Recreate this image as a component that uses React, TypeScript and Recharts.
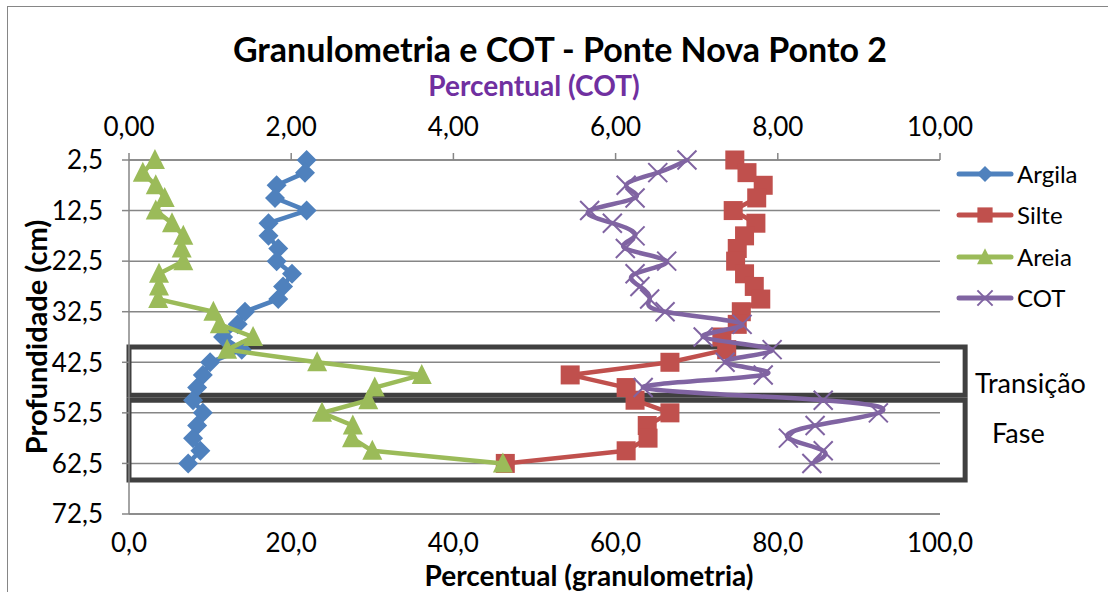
import { ScatterChart, Scatter, XAxis, YAxis, CartesianGrid, ReferenceArea } from 'recharts'

// depth (cm) of each sample
const depth = [2.5, 5, 7.5, 10, 12.5, 15, 17.5, 20, 22.5, 25, 27.5, 30, 32.5, 35, 37.5, 40, 42.5, 45, 47.5, 50, 52.5, 55, 57.5, 60, 62.5]

// granulometria (%)
const argila = [21.9, 21.7, 18.2, 18.0, 21.9, 17.2, 17.2, 18.4, 18.2, 20.1, 19.0, 18.4, 14.3, 13.4, 11.6, 13.9, 10.0, 9.1, 8.4, 7.9, 9.1, 8.4, 7.9, 8.8, 7.3]
const silte = [74.7, 76.2, 78.2, 77.4, 74.5, 77.3, 75.9, 75.0, 74.8, 75.9, 77.1, 77.9, 75.5, 75.0, 73.1, 73.7, 66.7, 54.4, 61.3, 62.4, 66.7, 63.9, 64.0, 61.3, 46.4]
const areia = [3.2, 1.7, 3.3, 4.4, 3.3, 5.3, 6.7, 6.5, 6.7, 3.7, 3.7, 3.6, 10.4, 11.2, 15.3, 12.1, 23.2, 36.1, 30.3, 29.5, 23.8, 27.6, 27.5, 30.0, 46.1]

// carbono orgânico total (%)
const cot = [6.88, 6.52, 6.13, 6.24, 5.68, 5.96, 6.24, 6.12, 6.63, 6.24, 6.30, 6.42, 6.61, 7.56, 7.08, 7.93, 7.35, 7.82, 6.34, 8.56, 9.24, 8.46, 8.13, 8.56, 8.42]

const granTicks = [0, 20, 40, 60, 80, 100]
const cotTicks = [0, 2, 4, 6, 8, 10]
const depthTicks = [2.5, 12.5, 22.5, 32.5, 42.5, 52.5, 62.5, 72.5]

// annotation boxes (depth range, granulometria range)
const transicao = { y1: 39.5, y2: 49.0, x1: 0, x2: 103.1 }
const fase = { y1: 50.0, y2: 65.8, x1: 0, x2: 103.1 }

type Kind = 'diamond' | 'square' | 'triangle' | 'x'

const series: { name: string; values: number[]; color: string; kind: Kind; axis: 'g' | 'c' }[] = [
  { name: 'Argila', values: argila, color: '#4F81BD', kind: 'diamond', axis: 'g' },
  { name: 'Silte', values: silte, color: '#C0504D', kind: 'square', axis: 'g' },
  { name: 'Areia', values: areia, color: '#9BBB59', kind: 'triangle', axis: 'g' },
  { name: 'COT', values: cot, color: '#8064A2', kind: 'x', axis: 'c' },
]

const FONT = 'Lato, "Open Sans", sans-serif'
const GRID = '#868686'

function Marker({ kind, cx, cy, color, s = 1 }: { kind: Kind; cx: number; cy: number; color: string; s?: number }) {
  if (kind === 'diamond') {
    const r = 10 * s
    return <path d={`M${cx},${cy - r}L${cx + r},${cy}L${cx},${cy + r}L${cx - r},${cy}Z`} fill={color} />
  }
  if (kind === 'square') {
    const r = 9.5 * s
    return <rect x={cx - r} y={cy - r} width={2 * r} height={2 * r} fill={color} />
  }
  if (kind === 'triangle') {
    return <path d={`M${cx},${cy - 11 * s}L${cx + 10 * s},${cy + 9 * s}L${cx - 10 * s},${cy + 9 * s}Z`} fill={color} />
  }
  const r = 9.5 * s
  return (
    <path d={`M${cx - r},${cy - r}L${cx + r},${cy + r}M${cx + r},${cy - r}L${cx - r},${cy + r}`} stroke={color} strokeWidth={2} fill="none" />
  )
}

const comma = (n: number, d: number) => n.toFixed(d).replace('.', ',')

export default function App() {
  return (
    <div style={{ position: 'absolute', left: 0, top: 0, width: 1108, height: 592, overflow: 'hidden', background: '#fff', fontFamily: FONT }}>
      <div style={{ position: 'absolute', left: 7, top: 6, width: 1120, height: 620, border: `1px solid ${GRID}` }} />

      <div style={{ position: 'absolute', left: 0, width: 1120, top: 29, textAlign: 'center', fontSize: 34, fontWeight: 700, color: '#000', lineHeight: '40px' }}>
        Granulometria e COT - Ponte Nova Ponto 2
      </div>
      <div style={{ position: 'absolute', left: 0, width: 1068, top: 69, textAlign: 'center', fontSize: 28, fontWeight: 700, color: '#7030A0', lineHeight: '32px' }}>
        Percentual (COT)
      </div>

      <ScatterChart width={1108} height={592} margin={{ top: 0, right: 168, bottom: 0, left: 0 }}>
        <CartesianGrid xAxisId="g" yAxisId="d" vertical={false} stroke={GRID} strokeWidth={1.5} />
        <XAxis
          xAxisId="g"
          type="number"
          dataKey="x"
          orientation="bottom"
          domain={[0, 100]}
          ticks={granTicks}
          height={78}
          axisLine={{ stroke: GRID, strokeWidth: 1.5 }}
          tickLine={false}
          tickSize={0}
          tickMargin={20}
          tick={{ fill: '#000', fontSize: 26, fontFamily: FONT }}
          tickFormatter={(v: number) => comma(v, 1)}
        />
        <XAxis
          xAxisId="c"
          type="number"
          dataKey="x"
          orientation="top"
          domain={[0, 10]}
          ticks={cotTicks}
          height={160}
          axisLine={{ stroke: GRID, strokeWidth: 1.5 }}
          tickLine={{ stroke: GRID, strokeWidth: 1.5 }}
          tickSize={7}
          tickMargin={17}
          tick={{ fill: '#000', fontSize: 26, fontFamily: FONT }}
          tickFormatter={(v: number) => comma(v, 2)}
        />
        <YAxis
          yAxisId="d"
          type="number"
          dataKey="y"
          domain={[2.5, 72.5]}
          ticks={depthTicks}
          reversed
          width={129}
          axisLine={{ stroke: GRID, strokeWidth: 1.5 }}
          tickLine={{ stroke: GRID, strokeWidth: 1.5 }}
          tickSize={7}
          tickMargin={19}
          tick={{ fill: '#000', fontSize: 26, fontFamily: FONT }}
          tickFormatter={(v: number) => comma(v, 1)}
        />
        {series.map((s) => (
          <Scatter
            key={s.name}
            name={s.name}
            xAxisId={s.axis}
            yAxisId="d"
            data={depth.map((d, i) => ({ x: s.values[i], y: d }))}
            line={{ stroke: s.color, strokeWidth: 4.5, strokeLinejoin: 'round', strokeLinecap: 'round' }}
            lineType="joint"
            lineJointType={s.axis === 'c' ? 'natural' : 'linear'}
            shape={(p: any) => <Marker kind={s.kind} cx={p.cx} cy={p.cy} color={s.color} />}
            isAnimationActive={false}
          />
        ))}
        {[transicao, fase].map((b, i) => (
          <ReferenceArea
            key={i}
            xAxisId="g"
            yAxisId="d"
            x1={b.x1}
            x2={b.x2}
            y1={b.y1}
            y2={b.y2}
            fill="none"
            stroke="#404040"
            strokeWidth={5}
            ifOverflow="visible"
          />
        ))}
      </ScatterChart>

      <div style={{ position: 'absolute', left: 0, top: 337, width: 70, textAlign: 'center', transform: 'translate(0,-50%) rotate(-90deg)', fontSize: 29, fontWeight: 700, whiteSpace: 'nowrap', display: 'flex', justifyContent: 'center' }}>
        <span>Profundidade (cm)</span>
      </div>
      <div style={{ position: 'absolute', left: 0, width: 1178, top: 564, textAlign: 'center', fontSize: 28, fontWeight: 700, lineHeight: '22px' }}>
        Percentual (granulometria)
      </div>

      <div style={{ position: 'absolute', left: 975, top: 367, fontSize: 27, lineHeight: '32px' }}>Transição</div>
      <div style={{ position: 'absolute', left: 992, top: 417, fontSize: 27, lineHeight: '32px' }}>Fase</div>

      <div style={{ position: 'absolute', left: 956, top: 153 }}>
        {series.map((s) => (
          <div key={s.name} style={{ display: 'flex', alignItems: 'center', height: 41.5 }}>
            <svg width={58} height={24} style={{ display: 'block' }}>
              <line x1={3} y1={12} x2={55} y2={12} stroke={s.color} strokeWidth={5} strokeLinecap="round" />
              <Marker kind={s.kind} cx={29} cy={12} color={s.color} s={0.8} />
            </svg>
            <span style={{ fontSize: 24, marginLeft: 3, lineHeight: '28px' }}>{s.name}</span>
          </div>
        ))}
      </div>
    </div>
  )
}
